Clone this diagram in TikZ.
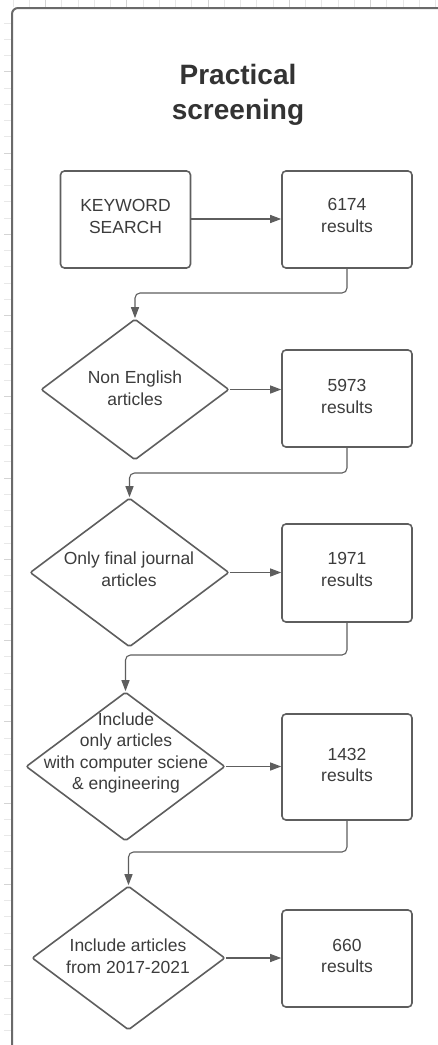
\documentclass[tikz,border=0pt]{standalone}
\usepackage{fontspec}
\setmainfont{Liberation Sans}
\usetikzlibrary{shapes.geometric,arrows.meta,calc}
\definecolor{edge}{HTML}{5E5E5E}
\definecolor{ink}{HTML}{3C3C3C}
\definecolor{framec}{HTML}{6A6A6A}
\definecolor{gridminor}{HTML}{E8E8E8}
\definecolor{gridmajor}{HTML}{D4D4D4}

\begin{document}
\begin{tikzpicture}[x=1pt,y=-1pt,
  box/.style={draw=edge, line width=1.6pt, rounded corners=4pt,
    minimum width=130pt, minimum height=97pt, inner sep=0pt},
  dia/.style={draw=edge, line width=1.6pt, diamond, inner sep=0pt,
    rounded corners=2pt},
  txt/.style={text=ink, font=\fontsize{17.5}{21.5}\selectfont,
    align=center, inner sep=0pt},
  link/.style={draw=edge, line width=1.1pt,
    -{Triangle[length=11pt,width=8pt]}, rounded corners=5pt}]

\useasboundingbox (0,0) rectangle (438,1045);
\clip (0,0) rectangle (438,1045);

% canvas grid ticks around the frame
\foreach \i in {0,...,26} {
  \pgfmathtruncatemacro{\m}{mod(\i,5)}
  \ifnum\m=2
    \draw[gridmajor, line width=0.8pt] (13+16.25*\i,0) -- (13+16.25*\i,7);
  \else
    \draw[gridminor, line width=0.8pt] (13+16.25*\i,0) -- (13+16.25*\i,7);
  \fi
}
\foreach \i in {0,...,62} {
  \pgfmathtruncatemacro{\m}{mod(\i,5)}
  \ifnum\m=3
    \draw[gridmajor, line width=0.8pt] (4,23+16.25*\i) -- (11,23+16.25*\i);
  \else
    \draw[gridminor, line width=0.8pt] (4,23+16.25*\i) -- (11,23+16.25*\i);
  \fi
}

% container
\draw[framec, fill=white, line width=2pt, rounded corners=6pt]
  (12,8) rectangle (470,1060);

% title
\node[text=ink!85!black, font=\bfseries\fontsize{28}{35}\selectfont,
  align=center, inner sep=0pt] (title) at (238,94.5) {Practical\\screening};

% boxes
\node[box] (kw) at (125.5,219.5) {};
\node[txt] (kwt) at (125.5,216.5) {KEYWORD\\SEARCH};
\node[box] (b1) at (347,219.5) {};
\node[txt] (b1t) at (347,215.5) {6174\\results};
\node[box] (b2) at (347,398.5) {};
\node[txt] (b2t) at (347,396.5) {5973\\results};
\node[box, minimum height=98pt] (b3) at (347,573) {};
\node[txt] (b3t) at (347,569.5) {1971\\results};
\node[box, minimum height=106pt] (b4) at (347,767) {};
\node[txt] (b4t) at (347,765) {1432\\results};
\node[box] (b5) at (347,958.5) {};
\node[txt] (b5t) at (347,956) {660\\results};

% decisions
\node[dia, minimum width=188pt, minimum height=141pt] (d1) at (135,389.5) {};
\node[txt] (d1t) at (135,388) {Non English\\articles};
\node[dia, minimum width=199pt, minimum height=149pt] (d2) at (129.5,572.5) {};
\node[txt] (d2t) at (129,569) {Only final journal\\articles};
\node[dia, minimum width=199pt, minimum height=149pt] (d3) at (125.5,766.5) {};
\node[txt] (d3t) at (126,753) {Include\\only articles\\with computer sciene\\\&{} engineering};
\node[dia, minimum width=193pt, minimum height=144pt] (d4) at (128.5,958) {};
\node[txt] (d4t) at (128,956) {Include articles\\from 2017-2021};

% horizontal flows
\draw[link] (kw.east |- 0,219) -- (b1.west |- 0,219);
\draw[link] (d1.east) -- (d1.east -| b2.west);
\draw[link] (d2.east) -- (d2.east -| b3.west);
\draw[link] (d3.east) -- (d3.east -| b4.west);
\draw[link] (d4.east) -- (d4.east -| b5.west);

% elbow connectors down to the next decision
\draw[link] (b1.south) -- (b1.south |- 0,293) -- (d1.north |- 0,293) -- (d1.north);
\draw[link] (b2.south) -- (b2.south |- 0,473) -- (d2.north |- 0,473) -- (d2.north);
\draw[link] (b3.south) -- (b3.south |- 0,655) -- (d3.north |- 0,655) -- (d3.north);
\draw[link] (b4.south) -- (b4.south |- 0,852) -- (d4.north |- 0,852) -- (d4.north);
\end{tikzpicture}
\end{document}
